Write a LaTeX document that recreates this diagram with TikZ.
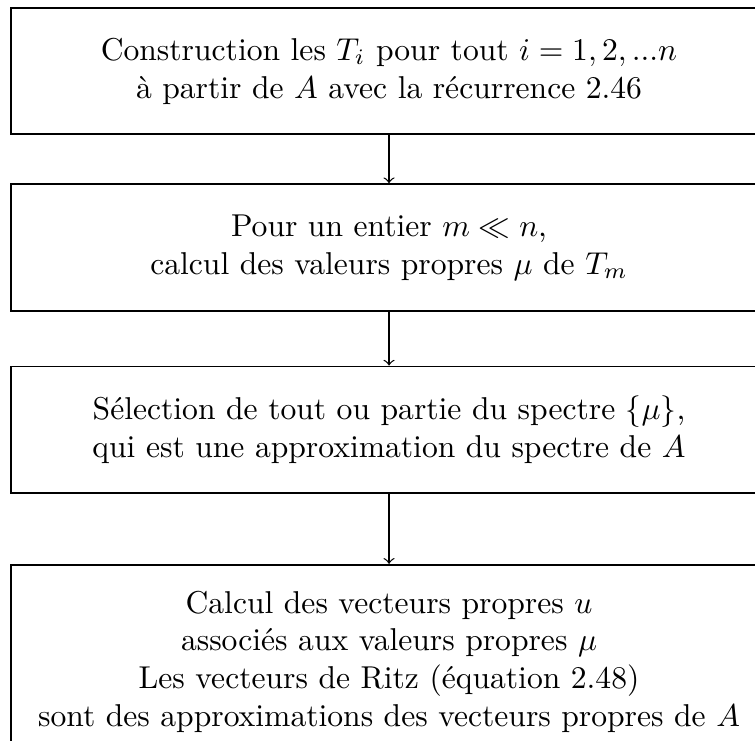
\documentclass[tikz,border=0pt]{standalone}
\usetikzlibrary{positioning}

\begin{document}
\begin{tikzpicture}[auto,semithick]
	  \tikzstyle{etape}=[rectangle,draw=black,semithick,align=center,minimum width=239.2pt,minimum height=40pt,inner ysep=8.2pt]
	  \tikzstyle{fleche}=[->,thin]

	  % cadre de l'image (les boites depassent a droite et en bas)
	  \useasboundingbox (-123.1pt,22.47pt) rectangle (115.8pt,-211.7pt);
	  \clip (-123.1pt,22.47pt) rectangle (115.8pt,-211.7pt);

	  \node[etape] (B1) at (0,0) {Construction les $T_i$ pour tout $i=1,2,...n$\\ à partir de $A$ avec la récurrence 2.46};
	  \node[etape] (B2) [below=15.2pt of B1] {Pour un entier $m \ll n$,\\ calcul des valeurs propres $\mu$ de $T_m$};
	  \node[etape] (B3) [below=17.1pt of B2] {Sélection de tout ou partie du spectre $\{\mu\}$,\\ qui est une approximation du spectre de $A$};
	  \node[etape] (B4) [below=22.15pt of B3] {Calcul des vecteurs propres $u$\\ associés aux valeurs propres $\mu$\\ Les vecteurs de Ritz (équation 2.48)\\ sont des approximations des vecteurs propres de $A$};

	  \draw[fleche] (B1) -- (B2);
	  \draw[fleche] (B2) -- (B3);
	  \draw[fleche] (B3) -- (B4);
\end{tikzpicture}
\end{document}
